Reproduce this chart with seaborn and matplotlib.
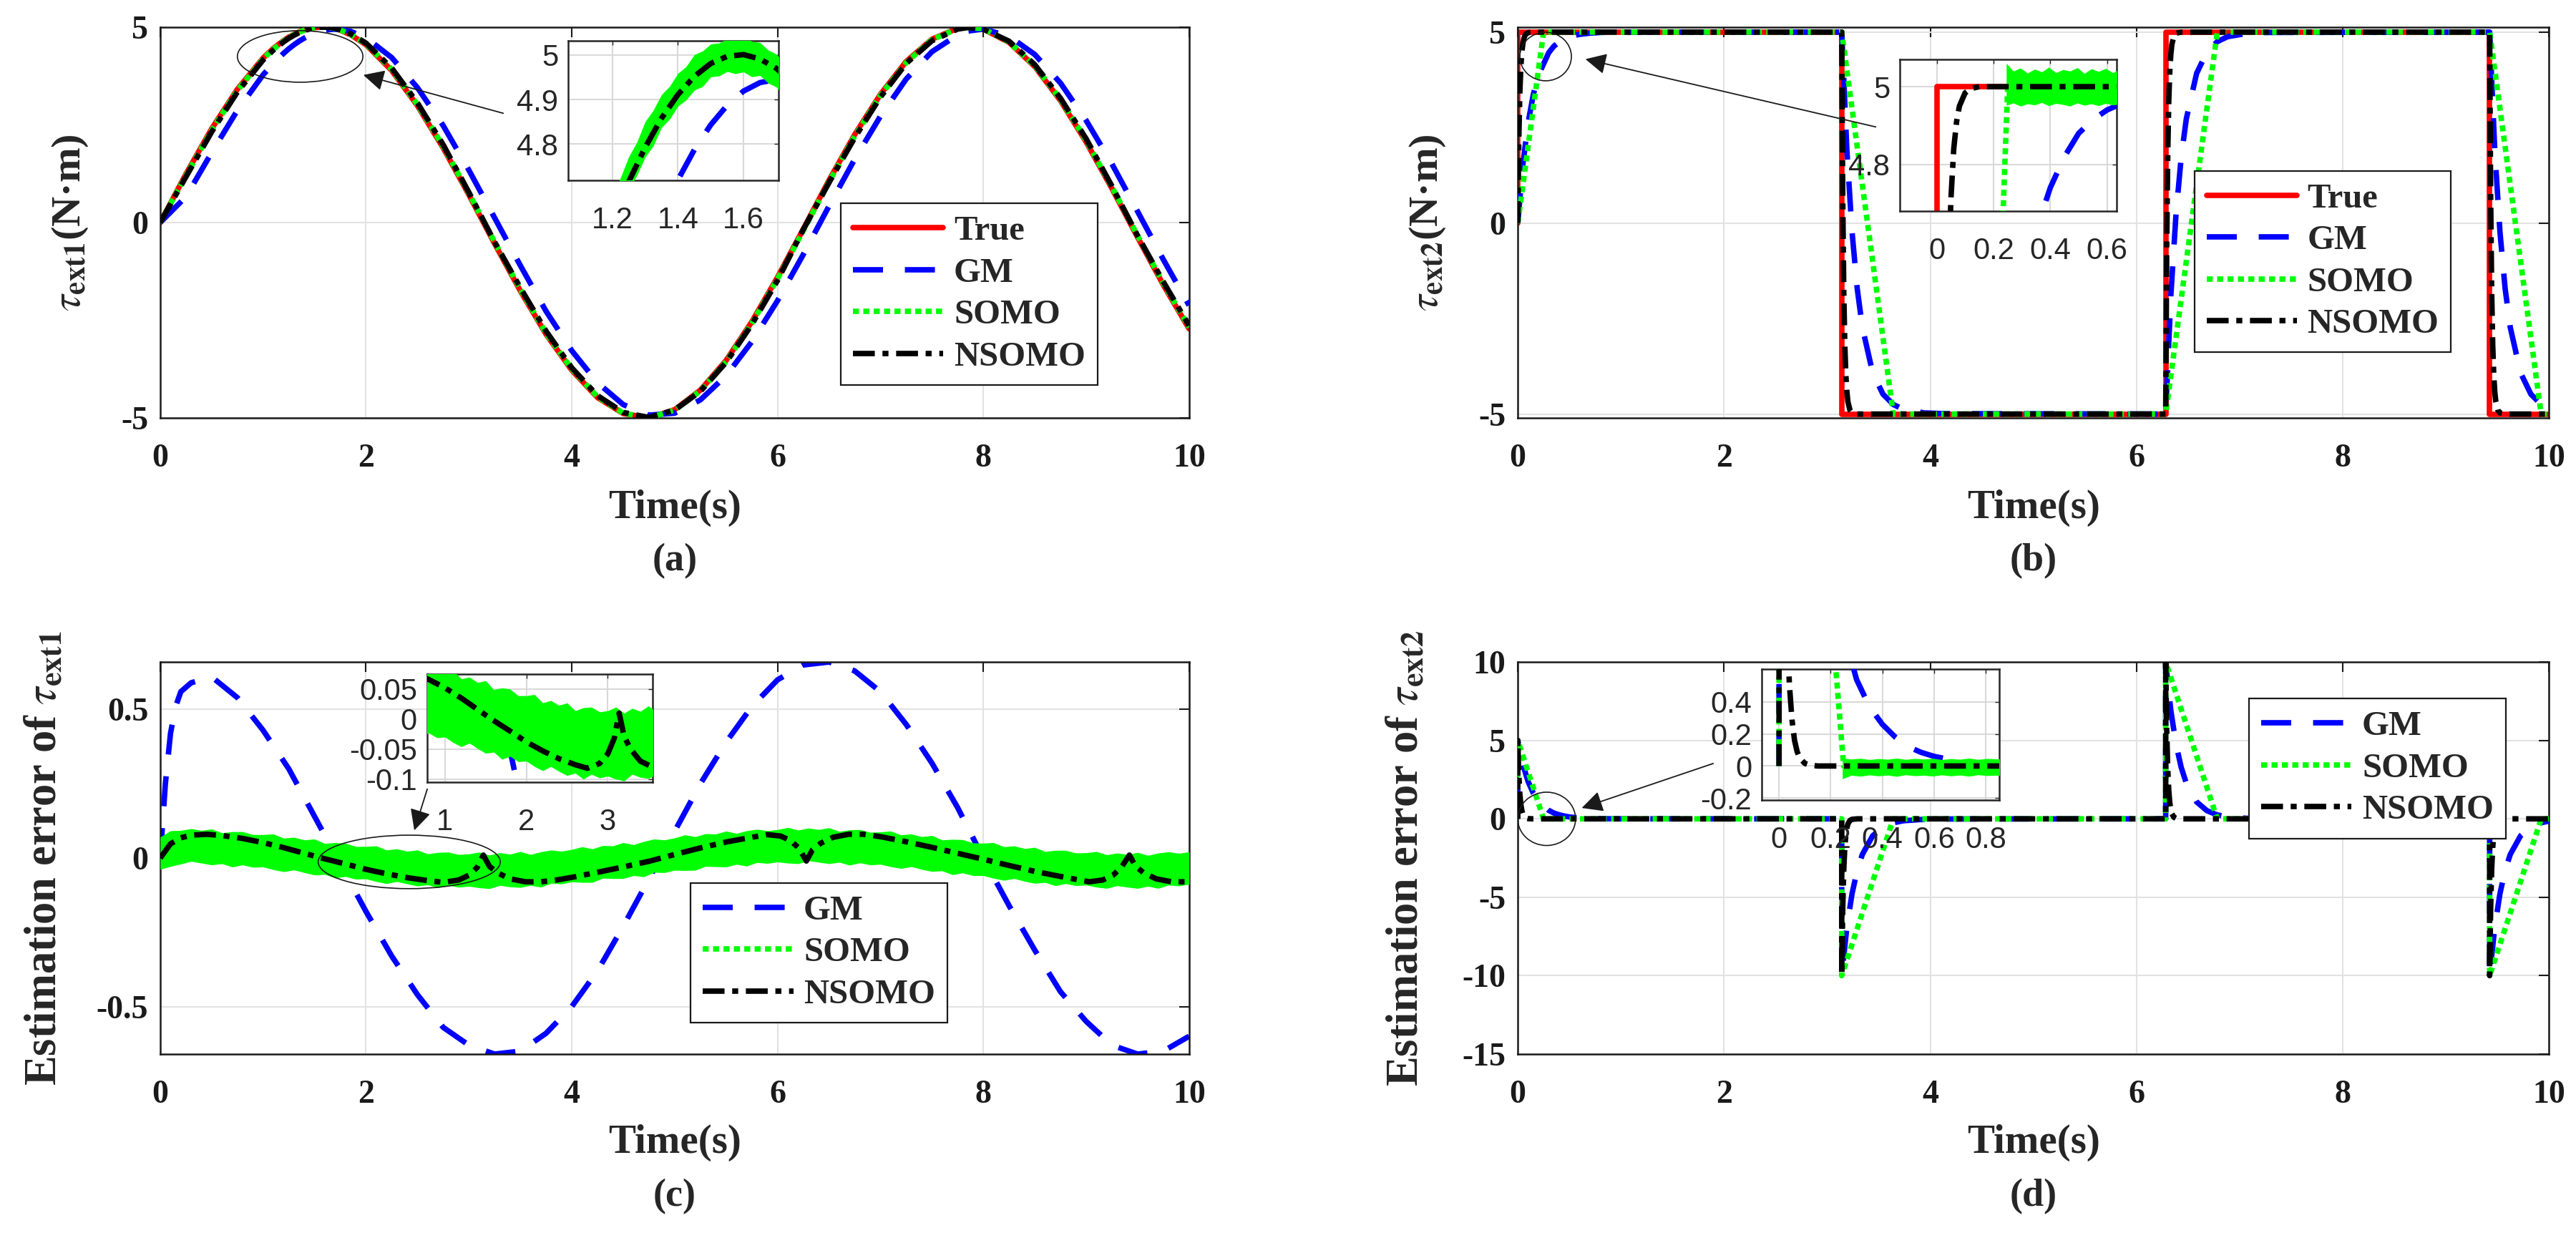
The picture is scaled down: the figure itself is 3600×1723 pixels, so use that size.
import numpy as np
import matplotlib
matplotlib.use("Agg")
import matplotlib.pyplot as plt
import seaborn as sns
from matplotlib.lines import Line2D
from matplotlib.patches import Ellipse

# ---------------- data: panel (a) estimates of tau_ext1 ----------------
T_A = [0, 0.25, 0.5, 0.75, 1.0, 1.1, 1.2, 1.25, 1.3, 1.35, 1.4, 1.45, 1.5, 1.55, 1.6, 1.65, 1.7, 1.75, 1.85,
       2.0, 2.25, 2.5, 2.75, 3.0, 3.25, 3.5, 3.75, 4.0, 4.25, 4.5, 4.75, 5.0, 5.25, 5.5, 5.75, 6.0, 6.25,
       6.5, 6.75, 7.0, 7.25, 7.5, 7.75, 7.85, 8.0, 8.25, 8.5, 8.75, 9.0, 9.25, 9.5, 9.75, 10.0]
TRUE_A = [0, 1.24, 2.40, 3.41, 4.21, 4.456, 4.660, 4.745, 4.818, 4.879, 4.927, 4.963, 4.987, 4.999, 4.998, 4.984,
          4.958, 4.920, 4.806, 4.55, 3.89, 2.99, 1.91, 0.71, -0.54, -1.75, -2.86, -3.78, -4.48, -4.89, -5.00,
          -4.79, -4.29, -3.53, -2.54, -1.40, -0.17, 1.08, 2.25, 3.28, 4.12, 4.69, 4.97, 5.00, 4.95, 4.61, 3.99,
          3.12, 2.06, 0.87, -0.38, -1.60, -2.72]
GM_A = [0, 0.66, 1.79, 2.87, 3.78, 4.073, 4.332, 4.446, 4.549, 4.640, 4.719, 4.787, 4.843, 4.887, 4.919, 4.938,
        4.945, 4.940, 4.892, 4.73, 4.22, 3.45, 2.48, 1.34, 0.12, -1.10, -2.27, -3.28, -4.10, -4.66, -4.93,
        -4.88, -4.54, -3.92, -3.05, -2.00, -0.82, 0.42, 1.62, 2.72, 3.67, 4.37, 4.80, 4.90, 4.95, 4.77, 4.30,
        3.57, 2.61, 1.50, 0.28, -0.95, -2.12]
SOMO_A = [0, 1.20, 2.36, 3.38, 4.19, 4.436, 4.645, 4.732, 4.807, 4.870, 4.920, 4.958, 4.984, 4.998, 4.999, 4.987,
          4.963, 4.927, 4.817, 4.57, 3.92, 3.02, 1.95, 0.75, -0.50, -1.71, -2.83, -3.75, -4.46, -4.88, -5.00,
          -4.80, -4.31, -3.56, -2.58, -1.44, -0.21, 1.04, 2.21, 3.25, 4.09, 4.68, 4.96, 4.99, 4.96, 4.62, 4.01,
          3.15, 2.10, 0.91, -0.34, -1.56, -2.68]
NSOMO_A = [0, 1.17, 2.32, 3.34, 4.16, 4.412, 4.625, 4.715, 4.792, 4.858, 4.911, 4.952, 4.981, 4.997, 5.001, 4.991,
           4.970, 4.936, 4.830, 4.59, 3.95, 3.06, 1.99, 0.77, -0.50, -1.67, -2.78, -3.72, -4.43, -4.86, -4.99,
           -4.80, -4.32, -3.58, -2.61, -1.48, -0.18, 1.02, 2.17, 3.21, 4.07, 4.65, 4.95, 4.99, 4.95, 4.64, 4.04,
           3.18, 2.14, 0.93, -0.34, -1.52, -2.64]
# chattering band of SOMO seen in inset (a)
T_BAND_A = [1.1, 1.125, 1.15, 1.175, 1.2, 1.225, 1.25, 1.275, 1.3, 1.325, 1.35, 1.375, 1.4, 1.425, 1.45, 1.475,
            1.5, 1.525, 1.55, 1.575, 1.6, 1.625, 1.65, 1.675, 1.7, 1.725, 1.75]
HI_A = [4.476, 4.526, 4.590, 4.633, 4.686, 4.724, 4.771, 4.804, 4.850, 4.876, 4.911, 4.930, 4.959, 4.974, 5.001,
        5.009, 5.025, 5.027, 5.037, 5.033, 5.042, 5.031, 5.028, 5.011, 5.002, 4.980, 4.970]
LO_A = [4.402, 4.451, 4.510, 4.553, 4.612, 4.650, 4.697, 4.729, 4.770, 4.796, 4.837, 4.856, 4.885, 4.899, 4.921,
        4.929, 4.951, 4.953, 4.963, 4.958, 4.962, 4.951, 4.954, 4.937, 4.928, 4.905, 4.890]

# ---------------- data: panel (b) estimates of tau_ext2 ----------------
TRUE_B_T = [0, 0, 3.1416, 3.1416, 6.2832, 6.2832, 9.4248, 9.4248, 10.0]
TRUE_B = [0, 5, 5, -5, -5, 5, 5, -5, -5]
GM_B_T = [0, 0.05, 0.1, 0.15, 0.2, 0.3, 0.35, 0.4, 0.45, 0.5, 0.55, 0.6, 0.7, 0.8, 1.0,
          3.1416, 3.1916, 3.2416, 3.2916, 3.3416, 3.4416, 3.5416, 3.6416, 3.7416, 3.9416, 4.1416,
          6.2832, 6.3332, 6.3832, 6.4332, 6.4832, 6.5832, 6.6832, 6.7832, 6.8832, 7.0832, 7.2832,
          9.4248, 9.4748, 9.5248, 9.5748, 9.6248, 9.7248, 9.8248, 9.9248, 10.0]
GM_B = [0, 1.55, 2.62, 3.36, 3.87, 4.46, 4.63, 4.74, 4.82, 4.88, 4.915, 4.94, 4.972, 4.99, 5.0,
        5.0, 1.90, -0.23, -1.71, -2.73, -3.92, -4.48, -4.75, -4.88, -4.97, -4.99,
        -5.0, -1.90, 0.23, 1.71, 2.73, 3.92, 4.48, 4.75, 4.88, 4.97, 4.99,
        5.0, 1.90, -0.23, -1.71, -2.73, -3.92, -4.48, -4.75, -4.85]
SOMO_B_T = [0, 0.25, 3.1416, 3.6416, 6.2832, 6.7832, 9.4248, 9.9248, 10.0]
SOMO_B = [0, 5, 5, -5, -5, 5, 5, -5, -5]
NSOMO_B_T = [0, 0.01, 0.02, 0.03, 0.04, 0.05, 0.06, 0.07, 0.08, 0.1, 0.12, 0.15,
             3.1416, 3.1516, 3.1616, 3.1716, 3.1816, 3.1916, 3.2016, 3.2216, 3.2416, 3.2916,
             6.2832, 6.2932, 6.3032, 6.3132, 6.3232, 6.3332, 6.3432, 6.3632, 6.3832, 6.4332,
             9.4248, 9.4348, 9.4448, 9.4548, 9.4648, 9.4748, 9.4848, 9.5048, 9.5248, 9.5748, 10.0]
NSOMO_B = [0, 2.18, 3.41, 4.10, 4.49, 4.71, 4.84, 4.91, 4.95, 4.984, 4.995, 5.0,
           5.0, 0.64, -1.82, -3.20, -3.98, -4.42, -4.68, -4.90, -4.97, -5.0,
           -5.0, -0.64, 1.82, 3.20, 3.98, 4.42, 4.68, 4.90, 4.97, 5.0,
           5.0, 0.64, -1.82, -3.20, -3.98, -4.42, -4.68, -4.90, -4.97, -5.0, -5.0]
T_BAND_B = [0.245, 0.27, 0.295, 0.32, 0.345, 0.37, 0.395, 0.42, 0.445, 0.47, 0.495, 0.52, 0.545, 0.57, 0.595,
            0.62, 0.645]
HI_B = [5.060, 5.040, 5.048, 5.035, 5.045, 5.038, 5.050, 5.036, 5.044, 5.040, 5.049, 5.034, 5.046, 5.039, 5.047,
        5.036, 5.045]
LO_B = [4.952, 4.958, 4.950, 4.956, 4.953, 4.959, 4.951, 4.957, 4.954, 4.950, 4.958, 4.952, 4.956, 4.951, 4.957,
        4.953, 4.955]

# ---------------- data: panel (c) estimation errors of tau_ext1 ----------------
GM_C_T = [0, 0.05, 0.1, 0.15, 0.2, 0.3, 0.5, 0.75, 1.0, 1.25, 1.5, 1.75, 2.0, 2.25, 2.5, 2.75, 3.0, 3.25, 3.5,
          3.75, 4.0, 4.25, 4.5, 4.75, 5.0, 5.25, 5.5, 5.75, 6.0, 6.25, 6.5, 6.75, 7.0, 7.25, 7.5, 7.75, 8.0,
          8.25, 8.5, 8.75, 9.0, 9.25, 9.5, 9.75, 10.0]
GM_C = [0, 0.25, 0.42, 0.51, 0.56, 0.59, 0.61, 0.54, 0.43, 0.30, 0.14, -0.02, -0.18, -0.33, -0.46, -0.57, -0.63,
        -0.66, -0.65, -0.59, -0.50, -0.38, -0.23, -0.07, 0.09, 0.25, 0.39, 0.51, 0.60, 0.65, 0.66, 0.63, 0.56,
        0.45, 0.32, 0.17, 0.00, -0.16, -0.31, -0.45, -0.55, -0.63, -0.66, -0.65, -0.60]
NSOMO_C_T = [0, 0.1, 0.2, 0.3, 0.45, 0.6, 0.8, 1.0, 1.2, 1.4, 1.57, 1.8, 2.0, 2.2, 2.4, 2.6, 2.75, 2.9, 3.0, 3.08,
             3.14, 3.2, 3.28, 3.4, 3.55, 3.7, 3.85, 4.0, 4.25, 4.5, 4.75, 5.0, 5.25, 5.5, 5.75, 5.9, 6.03, 6.13,
             6.21, 6.28, 6.34, 6.42, 6.54, 6.69, 6.84, 7.0, 7.25, 7.5, 7.75, 8.0, 8.25, 8.5, 8.75, 9.03, 9.16,
             9.26, 9.34, 9.42, 9.48, 9.56, 9.68, 9.83, 10.0]
NSOMO_C = [0.0, 0.048, 0.068, 0.077, 0.080, 0.076, 0.066, 0.052, 0.035, 0.016, 0.0, -0.020, -0.038, -0.053,
           -0.066, -0.076, -0.082, -0.074, -0.058, -0.032, 0.010, -0.028, -0.050, -0.070, -0.080, -0.080, -0.074,
           -0.065, -0.048, -0.030, -0.011, 0.012, 0.034, 0.054, 0.070, 0.079, 0.074, 0.058, 0.032, -0.010, 0.028,
           0.050, 0.070, 0.080, 0.080, 0.072, 0.055, 0.036, 0.016, -0.004, -0.025, -0.045, -0.062, -0.080, -0.074,
           -0.058, -0.032, 0.010, -0.028, -0.050, -0.070, -0.080, -0.080]
T_BAND_C = [0.0, 0.1, 0.2, 0.3, 0.4, 0.5, 0.6, 0.7, 0.8, 0.9, 1.0, 1.1, 1.2, 1.3, 1.4, 1.5, 1.6, 1.7, 1.8, 1.9,
            2.0, 2.1, 2.2, 2.3, 2.4, 2.5, 2.6, 2.7, 2.8, 2.9, 3.0, 3.1, 3.2, 3.3, 3.4, 3.5, 3.6, 3.7, 3.8, 3.9,
            4.0, 4.1, 4.2, 4.3, 4.4, 4.5, 4.6, 4.7, 4.8, 4.9, 5.0, 5.1, 5.2, 5.3, 5.4, 5.5, 5.6, 5.7, 5.8, 5.9,
            6.0, 6.1, 6.2, 6.3, 6.4, 6.5, 6.6, 6.7, 6.8, 6.9, 7.0, 7.1, 7.2, 7.3, 7.4, 7.5, 7.6, 7.7, 7.8, 7.9,
            8.0, 8.1, 8.2, 8.3, 8.4, 8.5, 8.6, 8.7, 8.8, 8.9, 9.0, 9.1, 9.2, 9.3, 9.4, 9.5, 9.6, 9.7, 9.8, 9.9,
            10.0]
HI_C = [0.071, 0.092, 0.093, 0.099, 0.093, 0.098, 0.085, 0.089, 0.089, 0.079,
        0.079, 0.081, 0.067, 0.070, 0.061, 0.064, 0.049, 0.052, 0.050, 0.039,
        0.039, 0.041, 0.027, 0.031, 0.023, 0.027, 0.014, 0.019, 0.020, 0.012,
        0.014, 0.020, 0.010, 0.018, 0.013, 0.022, 0.012, 0.021, 0.027, 0.023,
        0.029, 0.038, 0.031, 0.042, 0.041, 0.052, 0.045, 0.056, 0.064, 0.061,
        0.068, 0.078, 0.072, 0.082, 0.081, 0.091, 0.083, 0.092, 0.097, 0.092,
        0.096, 0.103, 0.094, 0.101, 0.096, 0.102, 0.090, 0.095, 0.096, 0.087,
        0.088, 0.091, 0.078, 0.081, 0.072, 0.076, 0.061, 0.063, 0.062, 0.051,
        0.050, 0.052, 0.038, 0.041, 0.032, 0.036, 0.022, 0.026, 0.026, 0.017,
        0.018, 0.022, 0.011, 0.017, 0.012, 0.019, 0.009, 0.017, 0.021, 0.016,
        0.021]
LO_C = [-0.038, -0.028, -0.020, -0.011, -0.017, -0.023, -0.019, -0.030, -0.023, -0.031,
        -0.030, -0.039, -0.046, -0.040, -0.049, -0.057, -0.055, -0.067, -0.062, -0.071,
        -0.070, -0.079, -0.086, -0.079, -0.087, -0.094, -0.090, -0.100, -0.092, -0.098,
        -0.095, -0.100, -0.103, -0.092, -0.097, -0.099, -0.092, -0.098, -0.085, -0.087,
        -0.080, -0.082, -0.082, -0.068, -0.069, -0.069, -0.059, -0.063, -0.048, -0.049,
        -0.041, -0.042, -0.041, -0.028, -0.029, -0.030, -0.021, -0.027, -0.015, -0.018,
        -0.013, -0.017, -0.019, -0.009, -0.014, -0.019, -0.014, -0.024, -0.016, -0.023,
        -0.021, -0.029, -0.035, -0.029, -0.038, -0.045, -0.043, -0.056, -0.050, -0.059,
        -0.059, -0.068, -0.075, -0.069, -0.078, -0.085, -0.082, -0.093, -0.086, -0.093,
        -0.091, -0.098, -0.102, -0.093, -0.098, -0.102, -0.095, -0.102, -0.091, -0.094,
        -0.088]

# ---------------- data: panel (d) estimation errors of tau_ext2 ----------------
GM_D_T = [0, 0, 0.05, 0.1, 0.15, 0.2, 0.3, 0.35, 0.4, 0.45, 0.5, 0.55, 0.6, 0.7, 0.8, 1.0,
          3.1416, 3.1416, 3.1916, 3.2416, 3.2916, 3.3416, 3.4416, 3.5416, 3.6416, 3.7416, 3.9416, 4.1416,
          6.2832, 6.2832, 6.3332, 6.3832, 6.4332, 6.4832, 6.5832, 6.6832, 6.7832, 6.8832, 7.0832, 7.2832,
          9.4248, 9.4248, 9.4748, 9.5248, 9.5748, 9.6248, 9.7248, 9.8248, 9.9248, 10.0]
GM_D = [0, 5.0, 3.45, 2.38, 1.64, 1.13, 0.54, 0.37, 0.26, 0.18, 0.12, 0.085, 0.06, 0.028, 0.01, 0.0,
        0.0, -10.0, -6.90, -4.77, -3.29, -2.27, -1.08, -0.52, -0.25, -0.12, -0.03, -0.01,
        0.0, 10.0, 6.90, 4.77, 3.29, 2.27, 1.08, 0.52, 0.25, 0.12, 0.03, 0.01,
        0.0, -10.0, -6.90, -4.77, -3.29, -2.27, -1.08, -0.52, -0.25, -0.14]
SOMO_D_T = [0, 0, 0.25, 3.1416, 3.1416, 3.6416, 6.2832, 6.2832, 6.7832, 9.4248, 9.4248, 9.9248, 10.0]
SOMO_D = [0, 5, 0, 0, -10, 0, 0, 10, 0, 0, -10, 0, 0]
NSOMO_D_T = [0, 0, 0.01, 0.02, 0.03, 0.04, 0.05, 0.06, 0.07, 0.08, 0.1, 0.12, 0.15,
             3.1416, 3.1416, 3.1516, 3.1616, 3.1716, 3.1816, 3.1916, 3.2016, 3.2216, 3.2416, 3.2916,
             6.2832, 6.2832, 6.2932, 6.3032, 6.3132, 6.3232, 6.3332, 6.3432, 6.3632, 6.3832, 6.4332,
             9.4248, 9.4248, 9.4348, 9.4448, 9.4548, 9.4648, 9.4748, 9.4848, 9.5048, 9.5248, 9.5748, 10.0]
NSOMO_D = [0, 5.0, 2.82, 1.59, 0.90, 0.51, 0.29, 0.16, 0.09, 0.05, 0.016, 0.005, 0.0,
           0.0, -10.0, -5.64, -3.18, -1.80, -1.02, -0.58, -0.32, -0.10, -0.03, 0.0,
           0.0, 10.0, 5.64, 3.18, 1.80, 1.02, 0.58, 0.32, 0.10, 0.03, 0.0,
           0.0, -10.0, -5.64, -3.18, -1.80, -1.02, -0.58, -0.32, -0.10, -0.03, 0.0, 0.0]
T_BAND_D = [0.245, 0.28, 0.315, 0.35, 0.385, 0.42, 0.455, 0.49, 0.525, 0.56, 0.595, 0.63, 0.665, 0.70, 0.735,
            0.77, 0.805, 0.84, 0.875]
HI_D = [0.050, 0.043, 0.048, 0.040, 0.046, 0.042, 0.049, 0.041, 0.047, 0.043, 0.048, 0.040, 0.046, 0.042, 0.049,
        0.041, 0.047, 0.044, 0.046]
LO_D = [-0.080, -0.058, -0.064, -0.056, -0.062, -0.057, -0.065, -0.055, -0.061, -0.058, -0.063, -0.056, -0.062,
        -0.057, -0.064, -0.055, -0.060, -0.058, -0.061]

XTICKS = [0, 2, 4, 6, 8, 10]
LABELS4 = ["True", "GM", "SOMO", "NSOMO"]

# ---------------- style ----------------
sns.set_theme(style="white")
plt.rcParams["font.family"] = ["Liberation Serif", "DejaVu Serif"]
plt.rcParams["mathtext.fontset"] = "stix"
plt.rcParams["axes.unicode_minus"] = False

RED, BLUE, GREEN, BLACK = "#ff0000", "#0000ff", "#00ff00", "#000000"
LW = 5.5
STY = {
    "True": dict(color=RED, linestyle="-"),
    "GM": dict(color=BLUE, linestyle=(0, (5.5, 4))),
    "SOMO": dict(color=GREEN, linestyle=(0, (1.1, 0.8))),
    "NSOMO": dict(color=BLACK, linestyle=(0, (4, 1.4, 1.1, 1.4))),
}
GRID = "#e2e2e2"
INSET_FONT = dict(family=["Liberation Sans", "DejaVu Sans"], size=30, weight="normal")


def draw(ax, t, v, name, z=3, lw=LW):
    sns.lineplot(x=t, y=v, ax=ax, estimator=None, sort=False, errorbar=None, legend=False,
                 linewidth=lw, zorder=z, **STY[name])


def band(ax, t, lo, hi, z=3):
    ax.fill_between(t, lo, hi, color=GREEN, linewidth=0, zorder=z)


def style_main(ax, ylim, yticks, ylabels):
    ax.set_xlim(0, 10)
    ax.set_ylim(*ylim)
    ax.set_xticks(XTICKS)
    ax.set_xticklabels([str(v) for v in XTICKS])
    ax.set_yticks(yticks)
    ax.set_yticklabels(ylabels)
    ax.grid(True, color=GRID, linewidth=1.5)
    ax.set_axisbelow(True)
    ax.tick_params(direction="in", top=True, right=True, length=10, width=1.5, labelsize=33, colors="k")
    ax.tick_params(axis="x", pad=26)
    ax.tick_params(axis="y", pad=12)
    for lab in ax.get_xticklabels() + ax.get_yticklabels():
        lab.set_fontweight("bold")
    for s in ax.spines.values():
        s.set_visible(True)
        s.set_color("k")
        s.set_linewidth(1.8)


def style_inset(ax, xlim, ylim, xticks, xlabels, yticks, ylabels):
    ax.set_xlim(*xlim)
    ax.set_ylim(*ylim)
    ax.set_xticks(xticks)
    ax.set_xticklabels(xlabels, fontdict=INSET_FONT)
    ax.set_yticks(yticks)
    ax.set_yticklabels(ylabels, fontdict=INSET_FONT)
    ax.grid(True, color="#d9d9d9", linewidth=1.5)
    ax.set_axisbelow(True)
    ax.set_facecolor("white")
    ax.tick_params(direction="in", length=4, width=1, colors="#262626", top=True, right=True)
    ax.tick_params(axis="x", pad=26)
    ax.tick_params(axis="y", pad=10)
    for s in ax.spines.values():
        s.set_visible(True)
        s.set_color("#262626")
        s.set_linewidth(1.8)
    ax.set_xlabel("")
    ax.set_ylabel("")


def legend(ax, names, anchor, loc):
    handles = [Line2D([], [], linewidth=LW, **STY[n]) for n in names]
    leg = ax.legend(handles, names, loc=loc, bbox_to_anchor=anchor,
                    prop=dict(family="Liberation Serif", weight="bold", size=35),
                    handlelength=2.6, handletextpad=0.3, borderpad=0.35, labelspacing=0.3,
                    frameon=True, fancybox=False, framealpha=1, edgecolor="k")
    leg.get_frame().set_linewidth(1.6)
    leg.set_zorder(20)


def labels(ax, ylabel, ylab_x, xlab_y, tag, tag_y, ysize):
    ax.set_xlabel("Time(s)", fontsize=41, fontweight="bold")
    ax.xaxis.set_label_coords(0.5, xlab_y)
    ax.xaxis.label.set_va("center")
    ax.set_ylabel(ylabel, fontsize=ysize, fontweight="bold")
    ax.yaxis.set_label_coords(ylab_x, 0.5)
    ax.yaxis.label.set_va("center")
    ax.yaxis.label.set_ha("center")
    ax.text(0.5, tag_y, tag, transform=ax.transAxes, ha="center", va="center", fontsize=39, fontweight="bold")


def arrow(fig, tail, head):
    fig.add_artist(matplotlib.patches.FancyArrowPatch(
        tail, head, transform=fig.transFigure, arrowstyle="-|>", mutation_scale=45,
        color="k", linewidth=1.3, zorder=30))


fig = plt.figure(figsize=(36, 17.23), dpi=100)
ax_a = fig.add_axes([0.0622, 0.6611, 0.3994, 0.3169])
ax_b = fig.add_axes([0.5892, 0.6611, 0.4003, 0.3169])
ax_c = fig.add_axes([0.0622, 0.1451, 0.3994, 0.3180])
ax_d = fig.add_axes([0.5892, 0.1451, 0.4003, 0.3180])

# ---- (a)
draw(ax_a, T_A, TRUE_A, "True", 2)
draw(ax_a, T_A, GM_A, "GM", 3)
draw(ax_a, T_A, SOMO_A, "SOMO", 4)
draw(ax_a, T_A, NSOMO_A, "NSOMO", 5)
style_main(ax_a, (-5, 5), [-5, 0, 5], ["-5", "0", "5"])
legend(ax_a, LABELS4, (0.928, 0.04), "lower right")
labels(ax_a, r"$\tau_{\mathbf{ext1}}$(N·m)", -0.0876, -0.231, "(a)", -0.366, 42)
ax_a.add_patch(Ellipse((1.36, 4.25), 1.22, 1.32, fill=False, edgecolor="k", linewidth=1.2, zorder=10))

in_a = fig.add_axes([0.2206, 0.8537, 0.0817, 0.1132])
draw(in_a, T_A, TRUE_A, "True", 2)
draw(in_a, T_A, GM_A, "GM", 3)
band(in_a, T_BAND_A, LO_A, HI_A, 4)
draw(in_a, T_A, NSOMO_A, "NSOMO", 5)
style_inset(in_a, (1.066, 1.707), (4.718, 5.032), [1.2, 1.4, 1.6], ["1.2", "1.4", "1.6"],
            [4.8, 4.9, 5.0], ["4.8", "4.9", "5"])
arrow(fig, (0.1961, 0.9077), (0.1403, 0.9396))

# ---- (b)
draw(ax_b, TRUE_B_T, TRUE_B, "True", 2)
draw(ax_b, GM_B_T, GM_B, "GM", 3)
draw(ax_b, SOMO_B_T, SOMO_B, "SOMO", 4)
draw(ax_b, NSOMO_B_T, NSOMO_B, "NSOMO", 5)
style_main(ax_b, (-5.1, 5.13), [-5, 0, 5], ["-5", "0", "5"])
legend(ax_b, LABELS4, (0.922, 0.123), "lower right")
labels(ax_b, r"$\tau_{\mathbf{ext2}}$(N·m)", -0.0874, -0.231, "(b)", -0.366, 42)
ax_b.add_patch(Ellipse((0.27, 4.36), 0.50, 1.27, fill=False, edgecolor="k", linewidth=1.2, zorder=10))

in_b = fig.add_axes([0.7375, 0.8288, 0.0842, 0.1230])
draw(in_b, TRUE_B_T, TRUE_B, "True", 2)
draw(in_b, GM_B_T, GM_B, "GM", 3)
draw(in_b, SOMO_B_T, SOMO_B, "SOMO", 4)
band(in_b, T_BAND_B, LO_B, HI_B, 4)
draw(in_b, NSOMO_B_T, NSOMO_B, "NSOMO", 5)
style_inset(in_b, (-0.13, 0.634), (4.68, 5.07), [0, 0.2, 0.4, 0.6], ["0", "0.2", "0.4", "0.6"],
            [4.8, 5.0], ["4.8", "5"])
arrow(fig, (0.7289, 0.8967), (0.6147, 0.9524))

# ---- (c)
draw(ax_c, GM_C_T, GM_C, "GM", 2)
band(ax_c, T_BAND_C, LO_C, HI_C, 3)
draw(ax_c, NSOMO_C_T, NSOMO_C, "NSOMO", 4)
style_main(ax_c, (-0.66, 0.66), [-0.5, 0, 0.5], ["-0.5", "0", "0.5"])
legend(ax_c, ["GM", "SOMO", "NSOMO"], (0.782, 0.036), "lower right")
labels(ax_c, r"Estimation error of $\tau_{\mathbf{ext1}}$", -0.112, -0.226, "(c)", -0.363, 45)
ax_c.add_patch(Ellipse((2.42, -0.013), 1.77, 0.18, fill=False, edgecolor="k", linewidth=1.2, zorder=10))

in_c = fig.add_axes([0.1658, 0.3657, 0.0875, 0.0876])
draw(in_c, GM_C_T, GM_C, "GM", 2)
band(in_c, T_BAND_C, LO_C, HI_C, 3)
draw(in_c, NSOMO_C_T, NSOMO_C, "NSOMO", 4)
style_inset(in_c, (0.78, 3.55), (-0.105, 0.075), [1, 2, 3], ["1", "2", "3"],
            [-0.1, -0.05, 0, 0.05], ["-0.1", "-0.05", "0", "0.05"])
arrow(fig, (0.1661, 0.3616), (0.1606, 0.3250))

# ---- (d)
draw(ax_d, GM_D_T, GM_D, "GM", 3)
draw(ax_d, SOMO_D_T, SOMO_D, "SOMO", 4)
draw(ax_d, NSOMO_D_T, NSOMO_D, "NSOMO", 5)
style_main(ax_d, (-15, 10), [-15, -10, -5, 0, 5, 10], ["-15", "-10", "-5", "0", "5", "10"])
legend(ax_d, ["GM", "SOMO", "NSOMO"], (0.975, 0.951), "upper right")
labels(ax_d, r"Estimation error of $\tau_{\mathbf{ext2}}$", -0.1076, -0.226, "(d)", -0.363, 45)
ax_d.add_patch(Ellipse((0.28, 0.0), 0.56, 3.4, fill=False, edgecolor="k", linewidth=1.2, zorder=10))

in_d = fig.add_axes([0.6839, 0.3511, 0.0922, 0.1062])
draw(in_d, GM_D_T, GM_D, "GM", 3)
draw(in_d, SOMO_D_T, SOMO_D, "SOMO", 4)
band(in_d, T_BAND_D, LO_D, HI_D, 4)
draw(in_d, NSOMO_D_T, NSOMO_D, "NSOMO", 5)
style_inset(in_d, (-0.067, 0.852), (-0.213, 0.605), [0, 0.2, 0.4, 0.6, 0.8],
            ["0", "0.2", "0.4", "0.6", "0.8"], [-0.2, 0, 0.2, 0.4], ["-0.2", "0", "0.2", "0.4"])
arrow(fig, (0.6658, 0.3813), (0.6133, 0.3442))

fig.savefig("out.png", dpi=100, facecolor="white")
